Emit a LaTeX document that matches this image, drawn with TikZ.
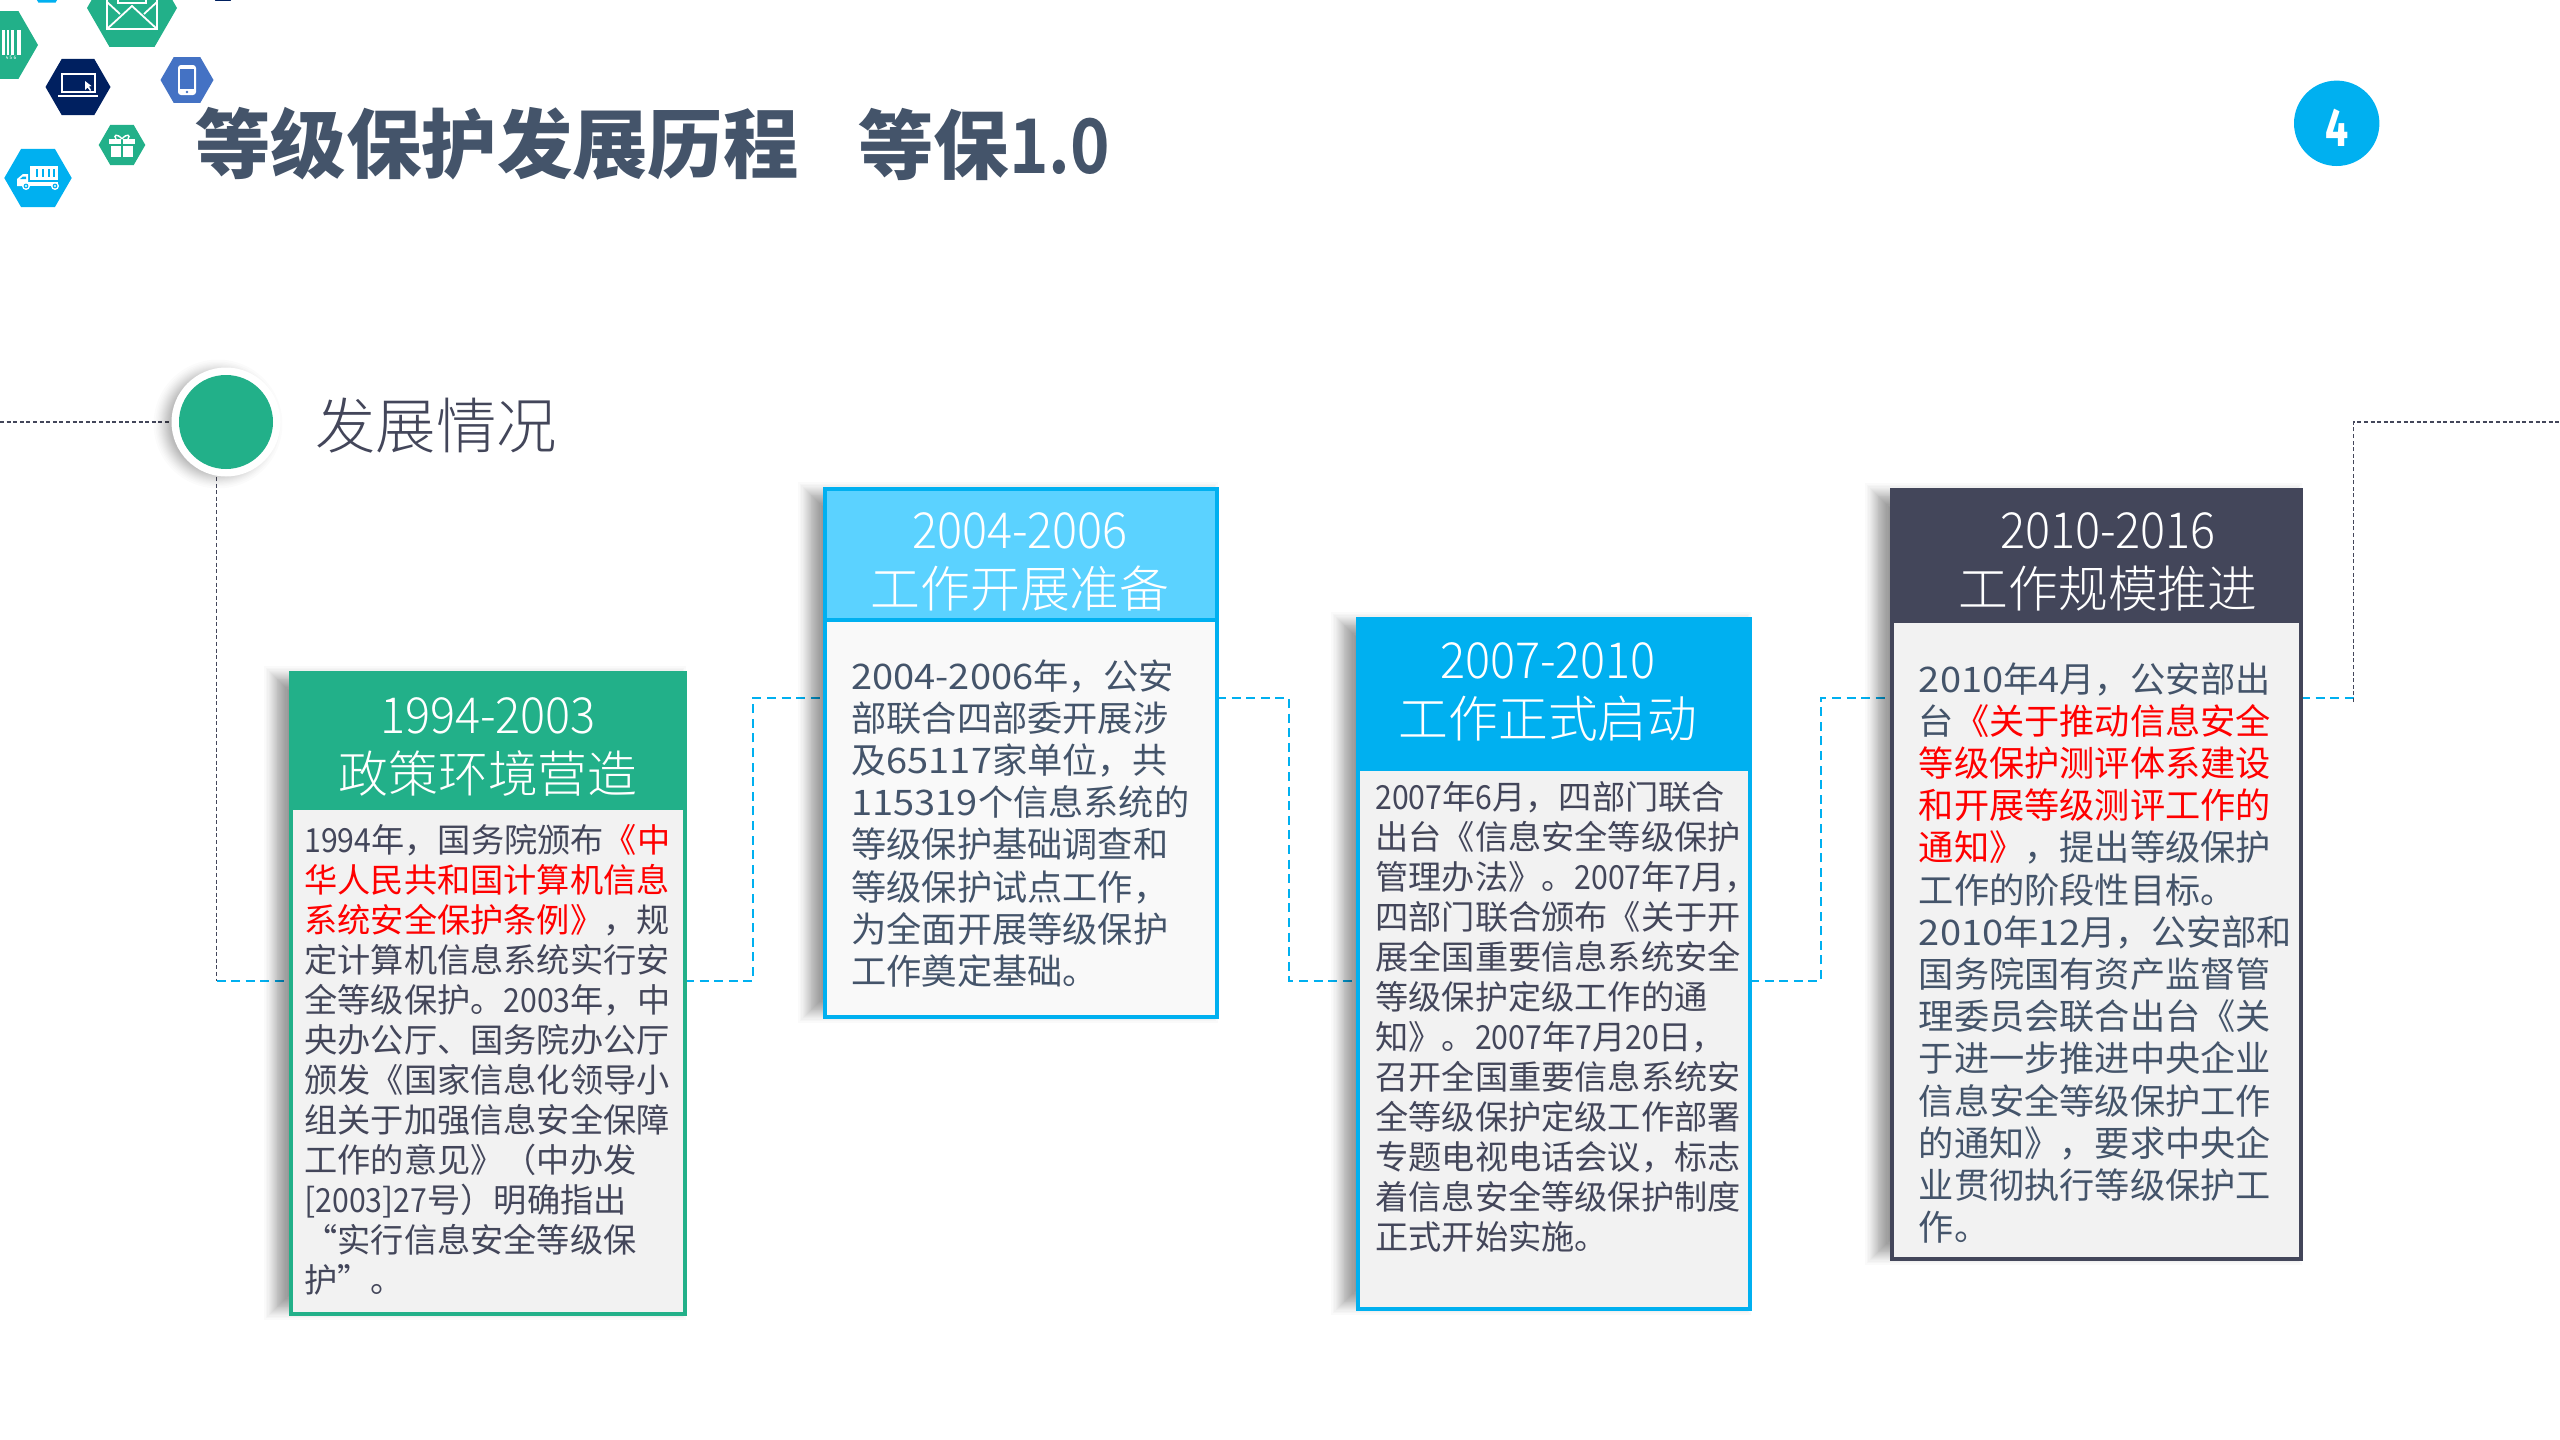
\documentclass[tikz,border=0pt]{standalone}
\usepackage{fontspec}
\setmainfont{Noto Sans CJK SC}
\newfontfamily\lightcjk{Noto Sans CJK SC Light}
\newfontfamily\yrfont[FakeStretch=.94]{Noto Sans CJK SC Light}
\newfontfamily\narrowfont[FakeStretch=.91]{Noto Sans CJK SC}
\newfontfamily\widefont[FakeStretch=1.08]{Noto Sans CJK SC}
\newfontfamily\titlenum[FakeStretch=.89,BoldFont={Noto Sans CJK SC Bold}]{Noto Sans CJK SC}
\newfontfamily\numfont{Fira Sans}
\usetikzlibrary{backgrounds,calc}
\definecolor{tealc}{HTML}{22B089}
\definecolor{skyc}{HTML}{00B0F0}
\definecolor{palec}{HTML}{5BD2FF}
\definecolor{slatec}{HTML}{43465A}
\definecolor{inkc}{HTML}{44546A}
\definecolor{navyc}{HTML}{002060}
\definecolor{bluec}{HTML}{4472C4}
\definecolor{panelc}{HTML}{F2F2F2}
\definecolor{panellight}{HTML}{F9F9F9}
\tikzset{
  card/.style={rectangle,inner sep=0pt,outer sep=0pt,fill=panelc,line width=2pt,anchor=north west},
  headbar/.style={rectangle,inner sep=0pt,outer sep=0pt,anchor=north west},
  headtext/.style={inner sep=0pt,align=center,text=white,font=\lightcjk\fontsize{24.9}{29.4}\selectfont},
  bodysmall/.style={inner sep=0pt,anchor=north west,align=left,text=slatec,font=\fontsize{16.6}{20.0}\selectfont},
  bodylarge/.style={inner sep=0pt,anchor=north west,align=left,text=inkc,font=\fontsize{17.6}{21.1}\selectfont},
  bluelink/.style={draw=skyc,line width=1.1pt,dash pattern=on 4.5pt off 2.8pt},
  greylink/.style={draw=slatec,line width=.6pt,dash pattern=on 2pt off 1.3pt},
  iconline/.style={draw=white,line width=.9pt,fill=none},
  iconfill/.style={fill=white,draw=none}
}
\newcommand{\hexa}[4]{\fill[#4] (#1+#3,#2) -- (#1+#3*.5,#2+#3*.866) -- (#1-#3*.5,#2+#3*.866) -- (#1-#3,#2) -- (#1-#3*.5,#2-#3*.866) -- (#1+#3*.5,#2-#3*.866) -- cycle;}
\newcommand{\softshadow}[4]{\foreach \i in {0,...,23}{\pgfmathsetmacro\dd{16*(1-2*(.5-sin(asin(1-2*(\i+.5)/24)/3)))}\fill[black,opacity=.02] ({#1-12-(\dd)},{#2+8-(\dd)}) rectangle ({#3-14+(\dd)},{#4-9+(\dd)});}}
\newcommand{\redt}[1]{\textcolor{red}{#1}}
\newcommand{\ns}[1]{{\narrowfont #1}}
\newcommand{\nw}[1]{{\widefont #1}}
\newcommand{\yr}[1]{{\yrfont #1}}
\begin{document}
\begin{tikzpicture}[x=.5pt,y=-.5pt]
\useasboundingbox (0,0) rectangle (2560,1440);
\begin{scope}[on background layer]
\fill[white] (0,0) rectangle (2560,1440);
\end{scope}
% hexagons and icons
\begin{scope}
\clip (0,0) rectangle (2560,1440);
\hexa{47}{-12}{17}{skyc}
\hexa{223}{-12}{15}{navyc}
\hexa{132}{8}{45}{tealc}
\hexa{-1}{45}{39}{tealc}
\hexa{78}{87}{32.5}{navyc}
\hexa{187}{80}{26.5}{bluec}
\hexa{122}{145}{23.3}{tealc}
\hexa{38}{178}{33.7}{skyc}
% envelope
\draw[iconline] (107,-2) rectangle (157,29);
\draw[iconline] (107,29) -- (132,6) -- (157,29);
\draw[iconline] (107,2) -- (120,14);
\draw[iconline] (157,2) -- (144,14);
\draw[iconline] (118,-2) -- (118,3) -- (146,3) -- (146,-2);
% barcode
\foreach \bx/\bw in {2/2.5,7/1.5,11/3,17/3.5}{\fill[white] (\bx,30) rectangle (\bx+\bw,55);}
\node[inner sep=0pt,text=white,font=\numfont\fontsize{2.5}{3}\selectfont] (codetext) at (11,58) {4 5 6};
% laptop
\draw[iconline] (62,74) rectangle (95,92);
\draw[iconline] (58,96) -- (98,96);
\fill[white] (85,81) -- (85,90) -- (87.5,87.5) -- (90,91) -- (91,90) -- (89,86.5) -- (91.5,86) -- cycle;
% phone
\fill[white,rounded corners=1.5pt] (178,65) rectangle (196,95);
\fill[bluec] (180,69) rectangle (194,89);
\fill[bluec] (187,92) circle (1.4);
% gift
\fill[white] (109,139) rectangle (135,144);
\fill[white] (111,146) rectangle (133,157);
\fill[tealc] (121,139) rectangle (123,157);
\draw[white,line width=.7pt] (122,139) .. controls (117,133) and (113,135) .. (116,139);
\draw[white,line width=.7pt] (122,139) .. controls (127,133) and (131,135) .. (128,139);
% truck
\fill[white] (30,166) rectangle (58,180);
\foreach \tx in {36,42,48,53}{\fill[skyc] (\tx,169) rectangle (\tx+2.2,177);}
\fill[white] (28,182) rectangle (58,186);
\fill[white] (17,186) -- (17,179) -- (23,174) -- (28,174) -- (28,186) -- cycle;
\fill[skyc] (20,179) -- (23,176.5) -- (26,176.5) -- (26,179) -- cycle;
\fill[white] (26,186) circle (4);\fill[skyc] (26,186) circle (2.4);\fill[white] (26,186) circle (1.2);
\fill[white] (55,186) circle (4);\fill[skyc] (55,186) circle (2.4);\fill[white] (55,186) circle (1.2);
\end{scope}
% title
\node[inner sep=0pt,anchor=west,text=inkc,font=\bfseries\fontsize{37.7}{44}\selectfont] (title) at (195,144) {等级保护发展历程};
\node[inner sep=0pt,anchor=west,text=inkc,font=\bfseries\fontsize{37.7}{44}\selectfont] (title2) at (858,144) {等保{\titlenum\bfseries 1.0}};
% page number
\node[circle,fill=skyc,minimum size=42.7pt,inner sep=0pt] (page) at (2336.7,123.3) {};
\node[inner sep=0pt,text=white,xscale=.76,font=\numfont\bfseries\fontsize{27}{30}\selectfont] (pagenum) at (2336.7,127.5) {4};
% section heading
\foreach \i in {0,...,23}{\pgfmathsetmacro\dd{15*(1-2*(.5-sin(asin(1-2*(\i+.5)/24)/3)))}\fill[black,opacity=.016] (218,424) circle ({52+(\dd)});}
\node[circle,fill=white,minimum size=54.5pt,inner sep=0pt] (ringo) at (226,422) {};
\node[circle,fill=tealc,minimum size=47pt,inner sep=0pt] (dot) at (226,422) {};
\node[inner sep=0pt,anchor=west,text=slatec,font=\lightcjk\fontsize{30.2}{36}\selectfont] (sec) at (315,426) {发展情况};
% shadows
\softshadow{289}{671}{687}{1316}
\softshadow{823}{487}{1219}{1019}
\softshadow{1356}{617}{1752}{1311}
\softshadow{1890}{488}{2303}{1261}
% cards
\node[card,draw=tealc,minimum width=197pt,minimum height=320.5pt] (c1) at (291,673) {};
\node[headbar,fill=tealc,minimum width=199pt,minimum height=69.5pt] (h1) at (289,671) {};
\node[card,draw=skyc,fill=panellight,minimum width=196pt,minimum height=264pt] (c2) at (825,489) {};
\node[headbar,fill=palec,draw=skyc,line width=2pt,minimum width=196pt,minimum height=65.5pt] (h2) at (825,489) {};
\node[card,draw=skyc,minimum width=196pt,minimum height=345pt] (c3) at (1358,619) {};
\node[headbar,fill=skyc,minimum width=198pt,minimum height=77pt] (h3) at (1356,617) {};
\node[card,draw=slatec,minimum width=204.5pt,minimum height=384.5pt] (c4) at (1892,490) {};
\node[headbar,fill=slatec,minimum width=206.5pt,minimum height=67.5pt] (h4) at (1890,488) {};
% connectors
\coordinate (upper) at (0,698);
\coordinate (lower) at (0,981);
\coordinate (j0) at (216.5,981);
\coordinate (j1) at (753,698);
\coordinate (j2) at (1289,698);
\coordinate (j3) at (1821,698);
\coordinate (j4) at (2353.5,698);
\coordinate (leftend) at (0,422);
\coordinate (rightend) at (2560,422);
\begin{scope}[on background layer]
\path[greylink] (leftend) -- (ringo.west);
\path[greylink] (ringo.south -| j0) -- (j0);
\path[bluelink] (j0) -- (c1.west |- lower);
\path[bluelink] (c1.east |- lower) -- (j1 |- lower) -- (j1) -- (c2.west |- upper);
\path[bluelink] (c2.east |- upper) -- (j2) -- (j2 |- lower) -- (c3.west |- lower);
\path[bluelink] (c3.east |- lower) -- (j3 |- lower) -- (j3) -- (c4.west |- upper);
\path[bluelink] (c4.east |- upper) -- (j4);
\path[greylink] ($(j4)+(0,4)$) -- (j4 |- rightend) -- (rightend);
\end{scope}
% header text
\node[headtext] (t1) at (488,747) {\yr{1994-2003}\\政策环境营造};
\node[headtext] (t2) at (1020,562) {\yr{2004-2006}\\工作开展准备};
\node[headtext] (t3) at (1548,692) {\yr{2007-2010}\\工作正式启动};
\node[headtext] (t4) at (2108,562) {\yr{2010-2016}\\工作规模推进};
% body text
\node[bodysmall] (b1) at (304,824) {\ns{1994}年，国务院颁布\redt{《中}\\
\redt{华人民共和国计算机信息}\\
\redt{系统安全保护条例》}，规\\
定计算机信息系统实行安\\
全等级保护。\ns{2003}年，中\\
央办公厅、国务院办公厅\\
颁发《国家信息化领导小\\
组关于加强信息安全保障\\
工作的意见》（中办发\\
{[}\ns{2003}{]}\ns{27}号）明确指出\\
“实行信息安全等级保\\
护”。};
\node[bodylarge] (b2) at (851,659) {\nw{2004-2006}年，公安\\
部联合四部委开展涉\\
及\nw{65117}家单位，共\\
\nw{115319}个信息系统的\\
等级保护基础调查和\\
等级保护试点工作，\\
为全面开展等级保护\\
工作奠定基础。};
\node[bodysmall] (b3) at (1375,781) {\ns{2007}年\ns{6}月，四部门联合\\
出台《信息安全等级保护\\
管理办法》。\ns{2007}年\ns{7}月，\\
四部门联合颁布《关于开\\
展全国重要信息系统安全\\
等级保护定级工作的通\\
知》。\ns{2007}年\ns{7}月\ns{20}日，\\
召开全国重要信息系统安\\
全等级保护定级工作部署\\
专题电视电话会议，标志\\
着信息安全等级保护制度\\
正式开始实施。};
\node[bodylarge] (b4) at (1918.5,662) {\nw{2010}年\nw{4}月，公安部出\\
台\redt{《关于推动信息安全}\\
\redt{等级保护测评体系建设}\\
\redt{和开展等级测评工作的}\\
\redt{通知》}，提出等级保护\\
工作的阶段性目标。\\
\nw{2010}年\nw{12}月，公安部和\\
国务院国有资产监督管\\
理委员会联合出台《关\\
于进一步推进中央企业\\
信息安全等级保护工作\\
的通知》，要求中央企\\
业贯彻执行等级保护工\\
作。};
\end{tikzpicture}
\end{document}
